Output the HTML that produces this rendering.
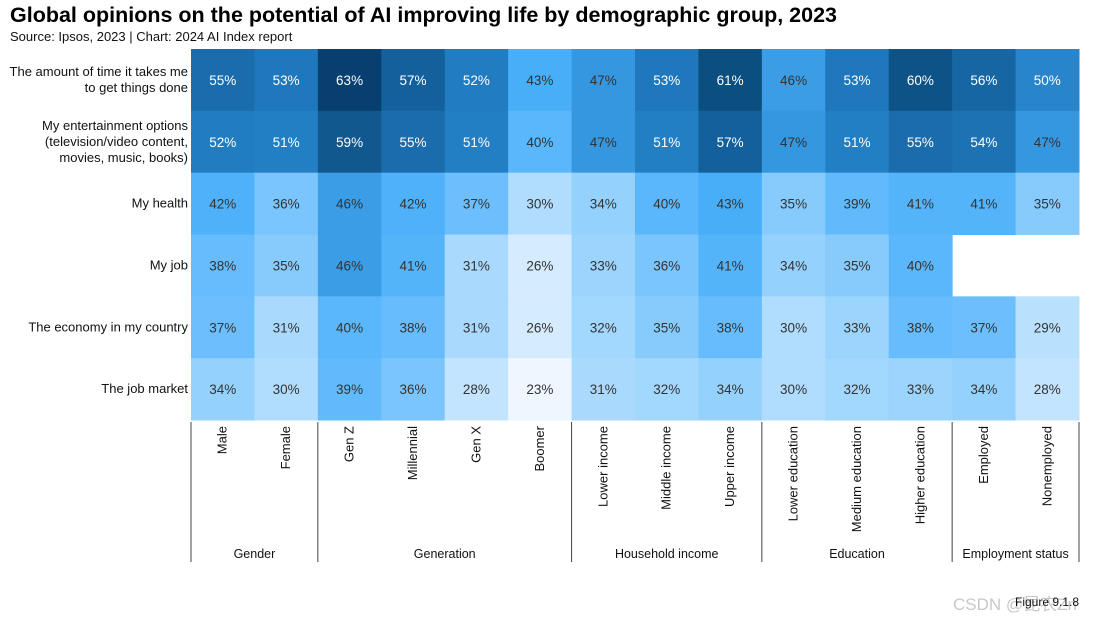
<!DOCTYPE html>
<html><head><meta charset="utf-8"><style>
body{margin:0;background:#fff;font-family:"Liberation Sans",sans-serif;}
#wrap{position:relative;width:1097px;height:617px;overflow:hidden}
.t{position:absolute;white-space:nowrap;color:#111}
</style></head><body><div id="wrap">
<div class="t" style="left:10px;top:3px;font-size:21.5px;font-weight:bold;color:#000">Global opinions on the potential of AI improving life by demographic group, 2023</div>
<div class="t" style="left:10px;top:29px;font-size:13px">Source: Ipsos, 2023 | Chart: 2024 AI Index report</div>
<svg id="svg" width="1097" height="617" style="position:absolute;left:0;top:0"></svg>
<div class="t" style="left:953px;top:590px;font-size:17px;color:#c8c8c8">CSDN @昆农Zn</div>
<div class="t" style="left:1015px;top:595px;font-size:12px">Figure 9.1.8</div>
</div>
<script>
const rows=["The amount of time it takes me|to get things done","My entertainment options|(television/video content,|movies, music, books)","My health","My job","The economy in my country","The job market"];
const cols=["Male","Female","Gen Z","Millennial","Gen X","Boomer","Lower income","Middle income","Upper income","Lower education","Medium education","Higher education","Employed","Nonemployed"];
const groups=["Gender","Generation","Household income","Education","Employment status"];
const groupSizes=[2,4,3,3,2];
const values=[
[55,53,63,57,52,43,47,53,61,46,53,60,56,50],
[52,51,59,55,51,40,47,51,57,47,51,55,54,47],
[42,36,46,42,37,30,34,40,43,35,39,41,41,35],
[38,35,46,41,31,26,33,36,41,34,35,40,null,null],
[37,31,40,38,31,26,32,35,38,30,33,38,37,29],
[34,30,39,36,28,23,31,32,34,30,32,33,34,28]];
const stops=[[23,[238,247,255]],[26,[213,235,254]],[30,[176,221,254]],[34,[148,209,253]],[37,[108,191,252]],[40,[90,183,251]],[43,[72,174,248]],[47,[53,151,224]],[51,[35,127,196]],[53,[31,120,187]],[57,[20,96,156]],[61,[11,79,128]],[63,[6,63,112]]];
function color(v){for(let i=1;i<stops.length;i++){if(v<=stops[i][0]){const a=stops[i-1],b=stops[i],f=(v-a[0])/(b[0]-a[0]);return 'rgb('+a[1].map((c,k)=>Math.round(c+(b[1][k]-c)*f)).join(',')+')';}}return 'rgb(6,63,112)';}
const X0=191,X1=1079,Y0=49,Y1=420;
const cw=(X1-X0)/cols.length,rh=(Y1-Y0)/rows.length;
const xs=i=>X0+i*cw, ys=j=>Y0+j*rh;
const svg=document.getElementById('svg');const NS='http://www.w3.org/2000/svg';
function mk(tag,attrs){const e=document.createElementNS(NS,tag);for(const k in attrs)e.setAttribute(k,attrs[k]);svg.appendChild(e);return e;}
values.forEach((row,j)=>row.forEach((v,i)=>{if(v===null)return;
const r=mk('rect',{x:xs(i),y:ys(j),width:cw+0.5,height:rh+0.5,fill:color(v)});


const t=mk('text',{x:xs(i)+cw/2,y:ys(j)+rh/2+5,'text-anchor':'middle','font-size':13.5,fill:v>=50?'#fff':'#333','font-family':'Liberation Sans'});t.textContent=v+'%';


}));
rows.forEach((r,j)=>{const lines=r.split('|');const cy=ys(j)+rh/2;
lines.forEach((l,k)=>{const t=mk('text',{x:188,y:cy+4+(k-(lines.length-1)/2)*16,'text-anchor':'end','font-size':13,fill:'#111','font-family':'Liberation Sans'});t.textContent=l;

});});
cols.forEach((c,i)=>{const x=xs(i)+cw/2+4;const t=mk('text',{x:x,y:426,'text-anchor':'end','font-size':13,fill:'#111','font-family':'Liberation Sans',transform:'rotate(-90 '+x+' 426)'});t.textContent=c;

});
let s=0;const seps=[0];groupSizes.forEach(g=>{s+=g;seps.push(s);});
seps.forEach(k=>{const l=mk('line',{x1:xs(k),x2:xs(k),y1:422,y2:562,stroke:'#444','stroke-width':1});

});
groups.forEach((g,k)=>{const t=mk('text',{x:(xs(seps[k])+xs(seps[k+1]))/2,y:558,'text-anchor':'middle','font-size':12.5,fill:'#111','font-family':'Liberation Sans'});t.textContent=g;

});
</script></body></html>
